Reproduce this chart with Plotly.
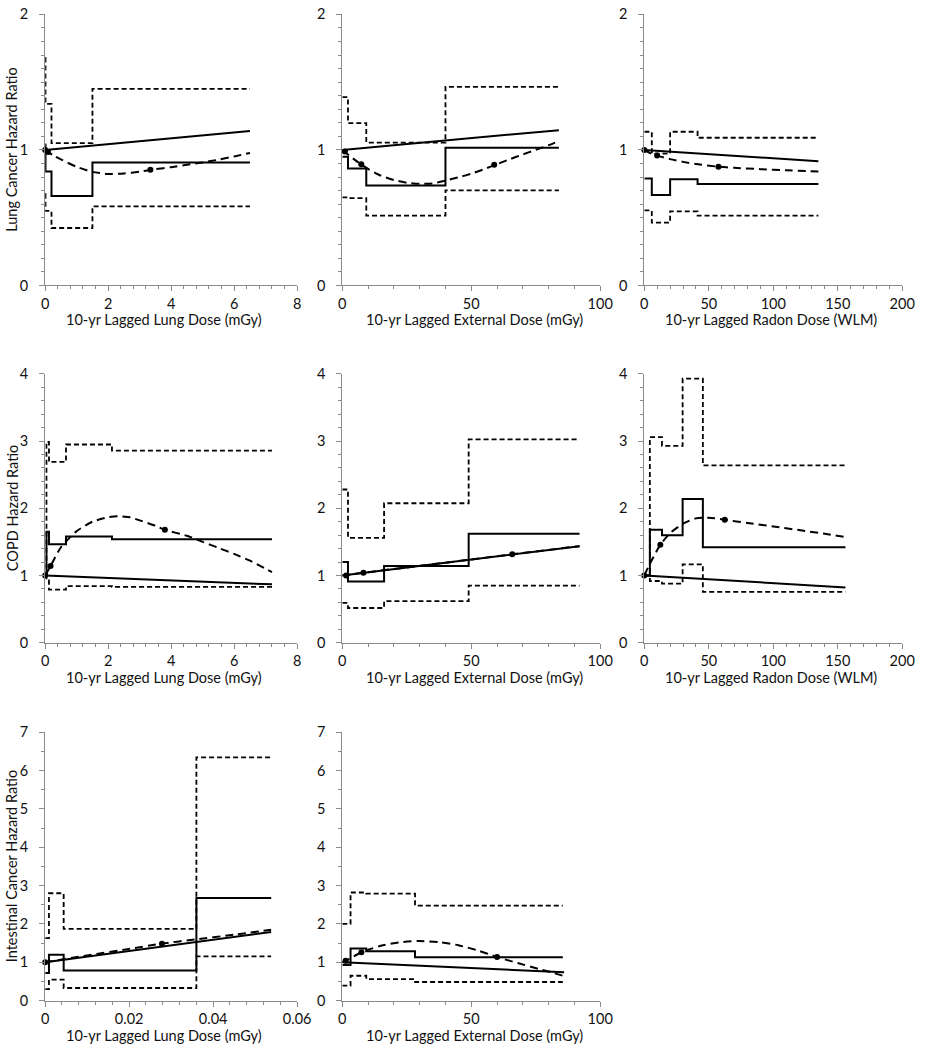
import plotly.graph_objects as go

# ---------------- text ----------------
Y_TITLES = ["Lung Cancer Hazard Ratio", "COPD Hazard Ratio", "Intestinal Cancer Hazard Ratio"]
X_TITLE_LUNG = "10-yr Lagged Lung Dose (mGy)"
X_TITLE_EXT = "10-yr Lagged External Dose (mGy)"
X_TITLE_RADON = "10-yr Lagged Radon Dose (WLM)"

# ---------------- ticks ----------------
X_TICKS_LUNG = [0, 2, 4, 6, 8]
X_TICKS_EXT = [0, 50, 100]
X_TICKS_RADON = [0, 50, 100, 150, 200]
X_TICKS_LUNG_SMALL = [0, 0.02, 0.04, 0.06]
X_TICKTEXT_LUNG_SMALL = ["0", "0.02", "0.04", "0.06"]
Y_TICKS_ROW1 = [0, 1, 2]
Y_TICKS_ROW2 = [0, 1, 2, 3, 4]
Y_TICKS_ROW3 = [0, 1, 2, 3, 4, 5, 6, 7]

# ---------------- Lung cancer / lung dose ----------------
A_CUTS = [0, 0.01, 0.2, 1.5, 6.5]
A_HR = [1.04, 0.84, 0.66, 0.907]
A_UPPER = [1.68, 1.34, 1.05, 1.45]
A_LOWER = [0.675, 0.55, 0.424, 0.583]
A_LIN_X = [0, 6.5]
A_LIN_Y = [1.0, 1.14]
A_SPL_X = [0, 0.25, 0.5, 1.0, 1.5, 2.0, 2.5, 3.0, 3.5, 4.0, 4.5, 5.0, 5.5, 6.0, 6.5]
A_SPL_Y = [1.0, 0.96, 0.93, 0.875, 0.838, 0.823, 0.826, 0.84, 0.858, 0.873, 0.89, 0.908, 0.928, 0.952, 0.978]
A_DOT_X = [0, 0.09, 3.34]
A_DOT_Y = [1.0, 0.985, 0.854]

# ---------------- Lung cancer / external dose ----------------
B_CUTS = [0, 2.2, 9.3, 40, 84]
B_HR = [0.95, 0.863, 0.737, 1.017]
B_UPPER = [1.39, 1.198, 1.054, 1.466]
B_LOWER = [0.65, 0.644, 0.515, 0.702]
B_LIN_X = [0, 84]
B_LIN_Y = [1.0, 1.146]
B_SPL_X = [0, 5, 10, 15, 20, 25, 30, 35, 40, 45, 50, 55, 60, 65, 70, 75, 80, 84]
B_SPL_Y = [1.0, 0.925, 0.86, 0.81, 0.778, 0.758, 0.75, 0.752, 0.774, 0.797, 0.825, 0.858, 0.895, 0.932, 0.967, 1.0, 1.035, 1.066]
B_DOT_X = [1.0, 7.35, 58.9]
B_DOT_Y = [0.988, 0.895, 0.89]

# ---------------- Lung cancer / radon ----------------
C_CUTS = [0, 5.8, 20, 41.3, 135]
C_HR = [0.79, 0.668, 0.783, 0.749]
C_UPPER = [1.134, 0.973, 1.134, 1.09]
C_LOWER = [0.554, 0.463, 0.546, 0.515]
C_LIN_X = [0, 135]
C_LIN_Y = [1.0, 0.917]
C_SPL_X = [0, 5, 10, 20, 30, 40, 57.5, 70, 90, 110, 135]
C_SPL_Y = [1.0, 0.975, 0.958, 0.932, 0.912, 0.896, 0.876, 0.868, 0.858, 0.85, 0.841]
C_DOT_X = [0, 9.9, 57.5]
C_DOT_Y = [1.0, 0.959, 0.876]

# ---------------- COPD / lung dose ----------------
D_CUTS = [0, 0.04, 0.12, 0.66, 2.12, 7.2]
D_HR = [1.0, 1.65, 1.466, 1.58, 1.54]
D_UPPER = [1.0, 2.99, 2.69, 2.95, 2.86]
D_LOWER = [1.0, 0.926, 0.79, 0.84, 0.83]
D_LIN_X = [0, 7.2]
D_LIN_Y = [1.0, 0.867]
D_SPL_X = [0, 0.17, 0.5, 1.0, 1.5, 2.0, 2.3, 2.7, 3.0, 3.5, 3.8, 4.5, 5.0, 5.5, 6.0, 6.5, 7.2]
D_SPL_Y = [1.0, 1.14, 1.42, 1.66, 1.8, 1.868, 1.88, 1.865, 1.82, 1.74, 1.68, 1.59, 1.5, 1.41, 1.32, 1.22, 1.05]
D_DOT_X = [0, 0.17, 3.8]
D_DOT_Y = [1.0, 1.14, 1.68]

# ---------------- COPD / external dose ----------------
E_CUTS = [0, 2.2, 16.2, 49, 92]
E_HR = [1.2, 0.91, 1.14, 1.62]
E_UPPER = [2.28, 1.56, 2.075, 3.025]
E_LOWER = [0.59, 0.515, 0.617, 0.848]
E_LIN_X = [0, 92]
E_LIN_Y = [1.0, 1.436]
E_SPL_X = [0, 8.2, 30, 50, 65.9, 92]
E_SPL_Y = [1.0, 1.04, 1.143, 1.237, 1.315, 1.436]
E_DOT_X = [1.5, 8.2, 65.9]
E_DOT_Y = [1.0, 1.04, 1.315]

# ---------------- COPD / radon ----------------
F_CUTS = [0, 4.3, 13.7, 29.7, 45.4, 156]
F_HR = [1.0, 1.68, 1.6, 2.137, 1.42]
F_UPPER = [1.0, 3.06, 2.93, 3.93, 2.64]
F_LOWER = [1.0, 0.917, 0.877, 1.165, 0.755]
F_LIN_X = [0, 156]
F_LIN_Y = [1.0, 0.82]
F_SPL_X = [0, 5, 12.4, 20, 30, 40, 50, 62.4, 80, 100, 120, 140, 156]
F_SPL_Y = [1.0, 1.2, 1.456, 1.63, 1.77, 1.85, 1.86, 1.83, 1.78, 1.73, 1.675, 1.62, 1.57]
F_DOT_X = [0, 12.4, 62.4]
F_DOT_Y = [1.0, 1.456, 1.83]

# ---------------- Intestinal cancer / lung dose ----------------
G_CUTS = [0, 0.0009, 0.0044, 0.036, 0.0538]
G_HR = [0.72, 1.2, 0.786, 2.675]
G_UPPER = [1.63, 2.8, 1.87, 6.34]
G_LOWER = [0.3, 0.55, 0.33, 1.155]
G_LIN_X = [0, 0.0538]
G_LIN_Y = [1.0, 1.79]
G_SPL_X = [0, 0.001, 0.01, 0.02, 0.0278, 0.036, 0.045, 0.0538]
G_SPL_Y = [1.0, 1.02, 1.18, 1.35, 1.487, 1.6, 1.72, 1.846]
G_DOT_X = [0, 0.0278]
G_DOT_Y = [1.0, 1.487]

# ---------------- Intestinal cancer / external dose ----------------
H_CUTS = [0, 3.2, 9.3, 28.2, 85.5]
H_HR = [0.93, 1.36, 1.29, 1.13]
H_UPPER = [2.0, 2.82, 2.79, 2.48]
H_LOWER = [0.39, 0.65, 0.564, 0.487]
H_LIN_X = [0, 86]
H_LIN_Y = [1.0, 0.744]
H_SPL_X = [0, 1.3, 7.4, 15, 22, 29.8, 38, 45, 52, 60, 68, 76, 81, 86]
H_SPL_Y = [1.0, 1.04, 1.26, 1.43, 1.52, 1.555, 1.525, 1.445, 1.32, 1.137, 0.98, 0.83, 0.74, 0.64]
H_DOT_X = [1.3, 7.4, 60]
H_DOT_Y = [1.04, 1.26, 1.137]

# ---------------- layout geometry (pixels) ----------------
W, H = 927, 1050
COLS = [(42, 299), (345, 608), (653, 916)]
ROWS = [(5.5, 281), (371, 644), (735, 1008)]
TITLE_CX = [163, 480, 782]
FONT = "Lato"
FS = 14.5
AX = "#8a8a8a"
TXT = "#111111"

panels = [
    dict(r=0, c=0, cuts=A_CUTS, hr=A_HR, up=A_UPPER, lo=A_LOWER, lx=A_LIN_X, ly=A_LIN_Y, sx=A_SPL_X, sy=A_SPL_Y,
         dx=A_DOT_X, dy=A_DOT_Y, xr=[0, 8], xt=X_TICKS_LUNG, xtt=None, xm=0.4, yr=[0, 2], yt=Y_TICKS_ROW1, ym=0.1,
         xtitle=X_TITLE_LUNG),
    dict(r=0, c=1, cuts=B_CUTS, hr=B_HR, up=B_UPPER, lo=B_LOWER, lx=B_LIN_X, ly=B_LIN_Y, sx=B_SPL_X, sy=B_SPL_Y,
         dx=B_DOT_X, dy=B_DOT_Y, xr=[0, 100], xt=X_TICKS_EXT, xtt=None, xm=10, yr=[0, 2], yt=Y_TICKS_ROW1, ym=0.1,
         xtitle=X_TITLE_EXT),
    dict(r=0, c=2, cuts=C_CUTS, hr=C_HR, up=C_UPPER, lo=C_LOWER, lx=C_LIN_X, ly=C_LIN_Y, sx=C_SPL_X, sy=C_SPL_Y,
         dx=C_DOT_X, dy=C_DOT_Y, xr=[0, 200], xt=X_TICKS_RADON, xtt=None, xm=10, yr=[0, 2], yt=Y_TICKS_ROW1, ym=0.1,
         xtitle=X_TITLE_RADON),
    dict(r=1, c=0, cuts=D_CUTS, hr=D_HR, up=D_UPPER, lo=D_LOWER, lx=D_LIN_X, ly=D_LIN_Y, sx=D_SPL_X, sy=D_SPL_Y,
         dx=D_DOT_X, dy=D_DOT_Y, xr=[0, 8], xt=X_TICKS_LUNG, xtt=None, xm=0.4, yr=[0, 4], yt=Y_TICKS_ROW2, ym=0.2,
         xtitle=X_TITLE_LUNG),
    dict(r=1, c=1, cuts=E_CUTS, hr=E_HR, up=E_UPPER, lo=E_LOWER, lx=E_LIN_X, ly=E_LIN_Y, sx=E_SPL_X, sy=E_SPL_Y,
         dx=E_DOT_X, dy=E_DOT_Y, xr=[0, 100], xt=X_TICKS_EXT, xtt=None, xm=10, yr=[0, 4], yt=Y_TICKS_ROW2, ym=0.2,
         xtitle=X_TITLE_EXT),
    dict(r=1, c=2, cuts=F_CUTS, hr=F_HR, up=F_UPPER, lo=F_LOWER, lx=F_LIN_X, ly=F_LIN_Y, sx=F_SPL_X, sy=F_SPL_Y,
         dx=F_DOT_X, dy=F_DOT_Y, xr=[0, 200], xt=X_TICKS_RADON, xtt=None, xm=10, yr=[0, 4], yt=Y_TICKS_ROW2, ym=0.2,
         xtitle=X_TITLE_RADON),
    dict(r=2, c=0, cuts=G_CUTS, hr=G_HR, up=G_UPPER, lo=G_LOWER, lx=G_LIN_X, ly=G_LIN_Y, sx=G_SPL_X, sy=G_SPL_Y,
         dx=G_DOT_X, dy=G_DOT_Y, xr=[0, 0.06], xt=X_TICKS_LUNG_SMALL, xtt=X_TICKTEXT_LUNG_SMALL, xm=0.004,
         yr=[0, 7], yt=Y_TICKS_ROW3, ym=0.5, xtitle=X_TITLE_LUNG),
    dict(r=2, c=1, cuts=H_CUTS, hr=H_HR, up=H_UPPER, lo=H_LOWER, lx=H_LIN_X, ly=H_LIN_Y, sx=H_SPL_X, sy=H_SPL_Y,
         dx=H_DOT_X, dy=H_DOT_Y, xr=[0, 100], xt=X_TICKS_EXT, xtt=None, xm=10, yr=[0, 7], yt=Y_TICKS_ROW3, ym=0.5,
         xtitle=X_TITLE_EXT),
]

fig = go.Figure()
layout = dict(width=W, height=H, margin=dict(l=0, r=0, t=0, b=0), paper_bgcolor="white",
              plot_bgcolor="white", showlegend=False, font=dict(family=FONT, size=FS, color=TXT))
annotations = []

for i, p in enumerate(panels):
    n = i + 1
    xa = "x" if n == 1 else f"x{n}"
    ya = "y" if n == 1 else f"y{n}"
    x0, x1 = COLS[p["c"]]
    y0, y1 = ROWS[p["r"]]
    xdom = [x0 / W, x1 / W]
    ydom = [1 - y1 / H, 1 - y0 / H]

    layout["xaxis" if n == 1 else f"xaxis{n}"] = dict(
        domain=xdom, anchor=ya, range=p["xr"], tickmode="array", tickvals=p["xt"],
        ticktext=p["xtt"] if p["xtt"] else [str(v) for v in p["xt"]],
        showline=True, linecolor=AX, linewidth=1, ticks="outside", ticklen=5, tickcolor=AX, tickwidth=1,
        minor=dict(ticks="outside", ticklen=3, tickcolor=AX, tickwidth=1, dtick=p["xm"], tick0=0),
        showgrid=False, zeroline=False, ticklabelstandoff=0, fixedrange=True,
        tickfont=dict(family=FONT, size=FS, color=TXT))
    layout["yaxis" if n == 1 else f"yaxis{n}"] = dict(
        domain=ydom, anchor=xa, range=p["yr"], tickmode="array", tickvals=p["yt"],
        ticktext=[str(v) for v in p["yt"]],
        showline=True, linecolor=AX, linewidth=1, ticks="outside", ticklen=5, tickcolor=AX, tickwidth=1,
        minor=dict(ticks="outside", ticklen=3, tickcolor=AX, tickwidth=1, dtick=p["ym"], tick0=0),
        showgrid=False, zeroline=False, ticklabelstandoff=8, fixedrange=True,
        tickfont=dict(family=FONT, size=FS, color=TXT))

    step_x = p["cuts"]
    ci_dash = "5px,3px"
    for vals in (p["up"], p["lo"]):
        fig.add_trace(go.Scatter(x=step_x, y=list(vals) + [vals[-1]], xaxis=xa, yaxis=ya, mode="lines",
                                 line=dict(color="black", width=1.8, dash=ci_dash, shape="hv"), hoverinfo="skip"))
    fig.add_trace(go.Scatter(x=step_x, y=list(p["hr"]) + [p["hr"][-1]], xaxis=xa, yaxis=ya, mode="lines",
                             line=dict(color="black", width=2, shape="hv"), hoverinfo="skip"))
    fig.add_trace(go.Scatter(x=p["sx"], y=p["sy"], xaxis=xa, yaxis=ya, mode="lines",
                             line=dict(color="black", width=2, dash="8px,5px", shape="spline", smoothing=0.6),
                             hoverinfo="skip"))
    fig.add_trace(go.Scatter(x=p["lx"], y=p["ly"], xaxis=xa, yaxis=ya, mode="lines",
                             line=dict(color="black", width=2), hoverinfo="skip"))
    fig.add_trace(go.Scatter(x=p["dx"], y=p["dy"], xaxis=xa, yaxis=ya, mode="markers",
                             marker=dict(color="black", size=6), cliponaxis=False, hoverinfo="skip"))

    # x-axis title
    annotations.append(dict(text=p["xtitle"], x=TITLE_CX[p["c"]] / W, y=1 - (y1 + 35) / H, xref="paper",
                            yref="paper", showarrow=False, xanchor="center", yanchor="middle",
                            font=dict(family=FONT, size=FS, color=TXT)))

for r, t in enumerate(Y_TITLES):
    y0, y1 = ROWS[r]
    annotations.append(dict(text=t, x=8 / W, y=1 - ((y0 + y1) / 2) / H, xref="paper", yref="paper",
                            showarrow=False, textangle=-90, xanchor="center", yanchor="middle",
                            font=dict(family=FONT, size=FS, color=TXT)))

layout["annotations"] = annotations
fig.update_layout(**layout)
fig.write_html("out.html", config={"displayModeBar": False},
               post_script="document.body.style.margin='0';")
